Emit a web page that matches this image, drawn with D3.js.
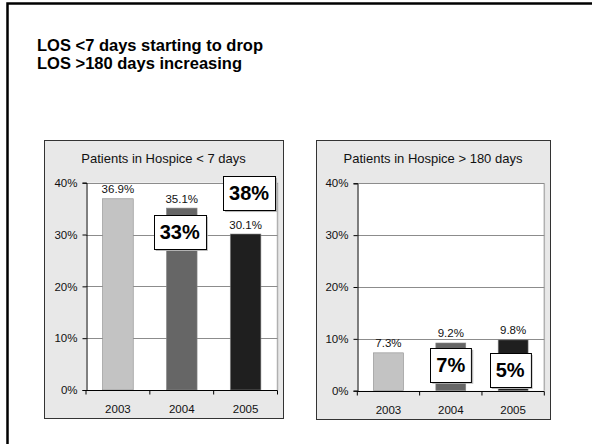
<!DOCTYPE html>
<html>
<head>
<meta charset="utf-8">
<script src="https://cdn.jsdelivr.net/npm/d3@7"></script>
<style>
  html, body { margin: 0; padding: 0; background: #fff; }
  svg { display: block; font-family: "Liberation Sans", Arial, sans-serif; }
</style>
</head>
<body>
<svg id="chart" width="592" height="444"></svg>
<script>
// ---- data ----
const titleLines = ["LOS <7 days starting to drop", "LOS >180 days increasing"];
const categories = ["2003", "2004", "2005"];
const lt7Values = [36.9, 35.1, 30.1];
const gt180Values = [7.3, 9.2, 9.8];
const yTickValues = [0, 10, 20, 30, 40];
const barColors = ["#c3c3c3", "#666666", "#1f1f1f"];
const lt7Title = "Patients in Hospice < 7 days";
const gt180Title = "Patients in Hospice > 180 days";
const lt7CalloutLabels = ["33%", "38%"];
const lt7CalloutCats = ["2004", "2005"];
const lt7CalloutAt = [30.5, 38];
const gt180CalloutLabels = ["7%", "5%"];
const gt180CalloutCats = ["2004", "2005"];
const gt180CalloutAt = [5, 4];

// ---- layout ----
const svg = d3.select("#chart");

// outer slide frame (top and left edges visible)
svg.append("path")
  .attr("d", "M7.5,445 L7.5,3.5 L600,3.5")
  .attr("fill", "none").attr("stroke", "#000").attr("stroke-width", 2.5);

svg.append("text")
  .attr("x", 37).attr("y", 51)
  .attr("font-size", 16.5).attr("font-weight", "bold").attr("fill", "#000")
  .selectAll("tspan").data(titleLines).join("tspan")
  .attr("x", 37).attr("dy", (d, i) => i === 0 ? 0 : 17.5)
  .text(d => d);

function drawPanel(cfg) {
  const g = svg.append("g");
  g.append("rect")
    .attr("x", cfg.box[0] + 0.5).attr("y", cfg.box[1] + 0.5)
    .attr("width", cfg.box[2]).attr("height", cfg.box[3])
    .attr("fill", "#e8e8e8").attr("stroke", "#333").attr("stroke-width", 1);

  const x = d3.scaleBand().domain(categories)
    .range([cfg.plot[0], cfg.plot[1]])
    .paddingInner(0.52).paddingOuter(0.26);
  const y = d3.scaleLinear().domain([0, 40]).range([cfg.plot[3], cfg.plot[2]]);

  // plot area
  g.append("rect")
    .attr("x", cfg.plot[0]).attr("y", y(40))
    .attr("width", cfg.plot[1] - cfg.plot[0]).attr("height", y(0) - y(40))
    .attr("fill", "#fff");
  // right edge of plot area
  g.append("line")
    .attr("x1", cfg.plot[1]).attr("x2", cfg.plot[1])
    .attr("y1", y(40)).attr("y2", y(0))
    .attr("stroke", "#b0b0b0").attr("stroke-width", 1.5);

  // gridlines
  g.append("g").selectAll("line").data(yTickValues.filter(v => v > 0)).join("line")
    .attr("x1", cfg.plot[0]).attr("x2", cfg.plot[1])
    .attr("y1", d => Math.round(y(d)) + 0.5).attr("y2", d => Math.round(y(d)) + 0.5)
    .attr("stroke", "#8c8c8c").attr("stroke-width", 1);

  // chart title
  g.append("text")
    .attr("x", cfg.box[0] + cfg.box[2] / 2).attr("y", cfg.box[1] + 22.5)
    .attr("text-anchor", "middle").attr("font-size", 13).attr("fill", "#111")
    .text(cfg.title);

  // bars
  g.append("g").selectAll("rect").data(cfg.values).join("rect")
    .attr("x", (d, i) => x(categories[i]))
    .attr("y", d => y(d))
    .attr("width", x.bandwidth())
    .attr("height", d => y(0) - y(d))
    .attr("fill", (d, i) => barColors[i])
    .attr("stroke", "#8a8a8a").attr("stroke-width", 0.6);

  // value labels
  g.append("g").selectAll("text").data(cfg.values).join("text")
    .attr("x", (d, i) => x(categories[i]) + x.bandwidth() / 2)
    .attr("y", d => y(d) - 5.5)
    .attr("text-anchor", "middle").attr("font-size", 11.5).attr("fill", "#111")
    .text(d => d.toFixed(1) + "%");

  // y axis
  const yAxis = d3.axisLeft(y).tickValues(yTickValues)
    .tickFormat(d => d + "%").tickSize(4).tickPadding(5);
  const ya = g.append("g")
    .attr("transform", `translate(${Math.round(cfg.plot[0]) + 0.5},0)`)
    .call(yAxis);
  ya.select(".domain").attr("stroke", "#000");
  ya.selectAll(".tick line").attr("stroke", "#000");
  ya.selectAll(".tick text").attr("font-size", 11.5).attr("fill", "#111")
    .attr("font-family", "Liberation Sans, Arial, sans-serif");

  // x axis: baseline with ticks between categories
  const y0 = Math.round(y(0)) + 0.5;
  g.append("line")
    .attr("x1", cfg.plot[0]).attr("x2", cfg.plot[1])
    .attr("y1", y0).attr("y2", y0).attr("stroke", "#000");
  const step = x.step();
  const bounds = d3.range(categories.length + 1).map(i => cfg.plot[0] + i * step);
  g.append("g").selectAll("line").data(bounds).join("line")
    .attr("x1", d => d).attr("x2", d => d)
    .attr("y1", y0).attr("y2", y0 + 4).attr("stroke", "#000");
  g.append("g").selectAll("text").data(categories).join("text")
    .attr("x", d => x(d) + x.bandwidth() / 2)
    .attr("y", y0 + 22)
    .attr("text-anchor", "middle").attr("font-size", 11.5).attr("fill", "#111")
    .text(d => d);

  // callouts
  cfg.callouts.labels.forEach((lab, i) => {
    const cx = x(cfg.callouts.cats[i]) + x.bandwidth() / 2 + cfg.callouts.dx[i];
    const cy = y(cfg.callouts.at[i]);
    const cg = g.append("g");
    const shadow = cg.append("rect");
    const box = cg.append("rect");
    const t = cg.append("text")
      .attr("x", cx).attr("y", cy).attr("dy", "0.36em")
      .attr("text-anchor", "middle").attr("font-size", 20).attr("font-weight", "bold")
      .attr("fill", "#000").text(lab);
    const w = t.node().getComputedTextLength() + 12;
    const h = 34;
    shadow.attr("x", cx - w / 2 + 2).attr("y", cy - h / 2 + 2)
      .attr("width", w).attr("height", h).attr("fill", "#b8b8b8");
    box.attr("x", Math.round(cx - w / 2) + 0.5).attr("y", Math.round(cy - h / 2) + 0.5)
      .attr("width", w).attr("height", h)
      .attr("fill", "#fff").attr("stroke", "#000").attr("stroke-width", 1);
  });
}

drawPanel({
  box: [44, 140, 239, 278],
  plot: [86, 277.5, 182.7, 390],
  title: lt7Title,
  values: lt7Values,
  callouts: { labels: lt7CalloutLabels, cats: lt7CalloutCats, at: lt7CalloutAt, dx: [-2, 3.5] }
});
drawPanel({
  box: [316, 140, 234, 279],
  plot: [357.3, 544.3, 183.3, 390.7],
  title: gt180Title,
  values: gt180Values,
  callouts: { labels: gt180CalloutLabels, cats: gt180CalloutCats, at: gt180CalloutAt, dx: [0, -3] }
});
</script>
</body>
</html>
